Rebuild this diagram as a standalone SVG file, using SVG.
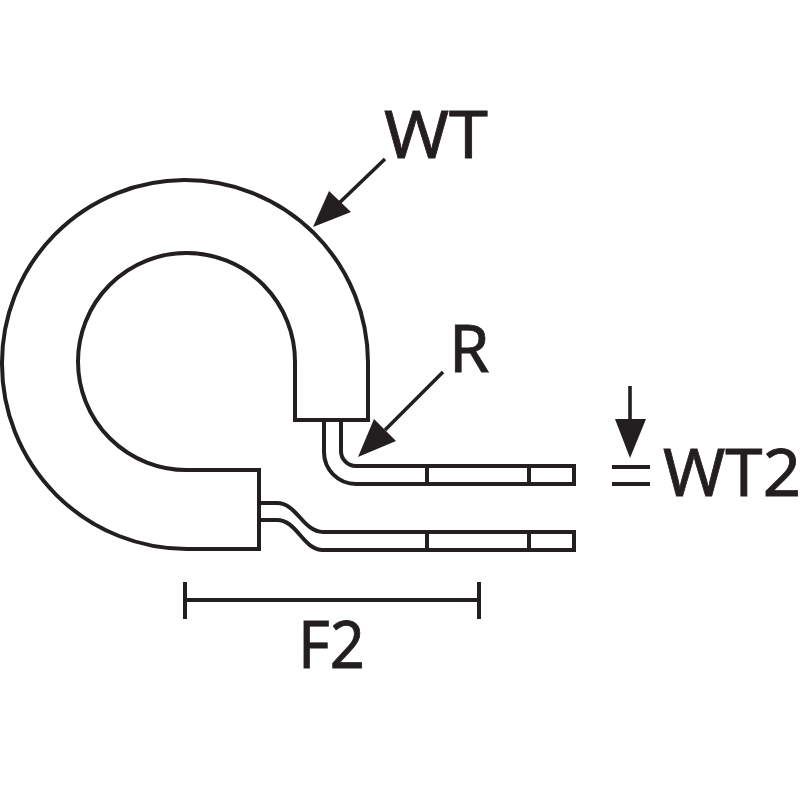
<svg xmlns="http://www.w3.org/2000/svg" width="800" height="800" viewBox="0 0 800 800">
<style>
.l{fill:none;stroke:#231f20;stroke-width:4}
.c{fill:none;stroke:#231f20;stroke-width:3.6}
.h{fill:#231f20;stroke:none}
text{font-family:"Noto Sans","Open Sans",sans-serif;font-size:65px;fill:#231f20;stroke:#231f20;stroke-width:.8}
</style>
<rect width="800" height="800" fill="#fff"/>
<g id="clamp-body"><path class="l" d="M295 420H368V362A183 183 0 0 0 2 364A185 185 0 0 0 187 549H259V470H187A108.500 108.500 0 1 1 295 362Z"/></g>
<g id="upper-strap"><path class="l" d="M324 421V452A32 32 0 0 0 356 484H574V466H356A15 15 0 0 1 341 451V421M427 466V484M529 466V484"/></g>
<g id="lower-strap"><path class="l" d="M260 503H277C297 503 303 532 323 532H574V550H323C303 550 297 520 277 520H260M427 532V550M529 532V550"/></g>
<g id="connectors">
<path class="c" d="M385 159L335 207"/><path class="h" d="M313 227L329 191L351 212Z"/>
<path class="c" d="M443 372L385 430"/><path class="h" d="M358 457L374 419L396 441Z"/>
<path class="c" d="M630 386V425"/><path class="h" d="M630 458L615 419H646Z"/>
<path class="l" d="M612 467H650M612 484H650"/>
<path class="l" d="M185 582V619M479 582V619M185 600H479"/>
</g>
<g id="labels">
<text x="384" y="158" textLength="104" lengthAdjust="spacingAndGlyphs">WT</text>
<text x="449" y="372">R</text>
<text x="663" y="496" textLength="138" lengthAdjust="spacingAndGlyphs">WT2</text>
<text x="298" y="668" textLength="67" lengthAdjust="spacingAndGlyphs">F2</text>
</g>
</svg>
